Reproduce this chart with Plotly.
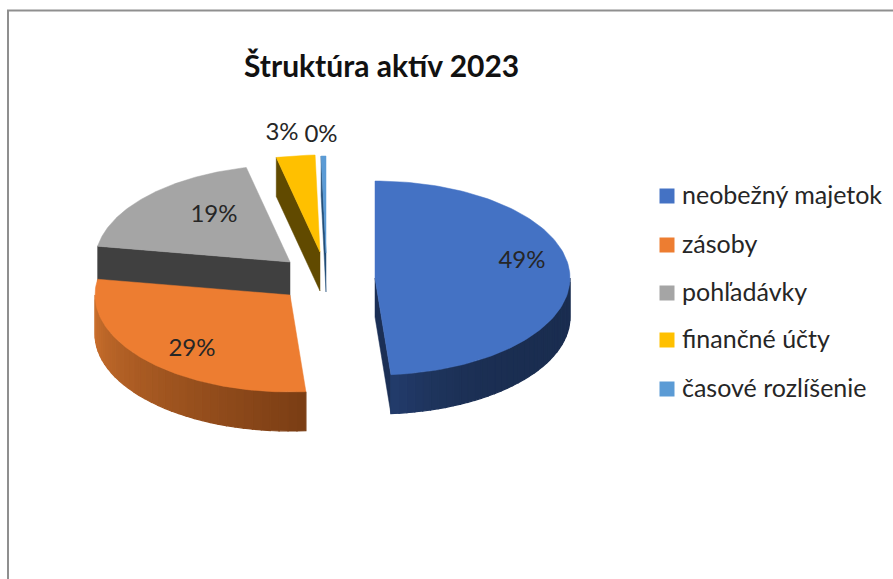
import math
import plotly.graph_objects as go

categories = ["neobežný majetok", "zásoby", "pohľadávky", "finančné účty", "časové rozlíšenie"]
values = [48.7, 28.9, 18.8, 3.2, 0.4]
tick_labels = ["49%", "29%", "19%", "3%", "0%"]

top_colors = ["#4472C4", "#ED7D31", "#A5A5A5", "#FFC000", "#5B9BD5"]
face_colors = ["#1B2F55", "#7C3E14", "#404040", "#614A00", "#234E78"]
rim_from = ["#1A2D50", "#7A3D14", "#404040", "#614A00", "#234E78"]
rim_to = ["#233C6C", "#CB702D", "#404040", "#614A00", "#234E78"]
rim_power = [5, 1, 1, 1, 1]

# layout of the exploded pie, in page pixels
apex = [(375, 278), (290, 295), (290, 262), (320, 252), (326, 253)]
RX, RY, DEPTH = 195, 97, 39
label_pos = [(522, 262), (192, 350), (214, 216), (282, 134), (321, 136)]
legend_y = [196, 245, 293, 340, 389]
legend_text_y = [198, 247, 295, 342, 391]

total = sum(values)
bounds = [0.0]
for v in values:
    bounds.append(bounds[-1] + v / total * 2 * math.pi)


def pt(i, a, dz=0):
    ax, ay = apex[i]
    return ax + RX * math.sin(a), ay - RY * math.cos(a) + dz


def mix(c1, c2, t):
    p = [int(c1[k:k + 2], 16) for k in (1, 3, 5)]
    q = [int(c2[k:k + 2], 16) for k in (1, 3, 5)]
    return "#%02x%02x%02x" % tuple(round(a + (b - a) * t) for a, b in zip(p, q))


fig = go.Figure()


def poly(points, color, lw=0.5):
    xs = [p[0] for p in points] + [points[0][0]]
    ys = [p[1] for p in points] + [points[0][1]]
    fig.add_trace(go.Scatter(x=xs, y=ys, mode="lines", fill="toself", fillcolor=color,
                             line=dict(color=color, width=lw), hoverinfo="skip", showlegend=False))


def draw_slice(i, face_angle=None, rim=None):
    a0, a1 = bounds[i], bounds[i + 1]
    if face_angle is not None:
        e = pt(i, face_angle)
        ax, ay = apex[i]
        poly([(ax, ay), e, (e[0], e[1] + DEPTH), (ax, ay + DEPTH)], face_colors[i])
    if rim:
        r0, r1 = max(a0, rim[0]), min(a1, rim[1])
        n = 36
        for k in range(n):
            s0 = r0 + (r1 - r0) * k / n
            s1 = r0 + (r1 - r0) * (k + 1) / n
            t = ((k + 0.5) / n) ** rim_power[i]
            poly([pt(i, s0), pt(i, s1), pt(i, s1, DEPTH), pt(i, s0, DEPTH)],
                 mix(rim_from[i], rim_to[i], t), lw=1.2)
    n = 120
    pts = [apex[i]] + [pt(i, a0 + (a1 - a0) * k / n) for k in range(n + 1)]
    poly(pts, top_colors[i])


draw_slice(4, face_angle=bounds[4])
draw_slice(3, face_angle=bounds[3])
draw_slice(2, face_angle=bounds[2])
draw_slice(1, rim=(bounds[1], 3 * math.pi / 2))
draw_slice(0, face_angle=bounds[1], rim=(math.pi / 2, bounds[1]))

FONT = "Lato"
INK = "#262626"

# data labels
fig.add_trace(go.Scatter(x=[p[0] for p in label_pos], y=[p[1] for p in label_pos], mode="text",
                         text=tick_labels, textposition="middle center",
                         textfont=dict(family=FONT, size=24, color=INK),
                         hoverinfo="skip", showlegend=False))

# legend swatches and entries
fig.add_trace(go.Scatter(x=[667] * 5, y=legend_y, mode="markers",
                         marker=dict(symbol="square", size=15, color=top_colors),
                         hoverinfo="skip", showlegend=False))
fig.add_trace(go.Scatter(x=[682] * 5, y=legend_text_y, mode="text", text=categories,
                         textposition="middle right",
                         textfont=dict(family=FONT, size=25, color=INK),
                         hoverinfo="skip", showlegend=False))

fig.update_layout(
    width=893, height=579, autosize=False,
    margin=dict(l=0, r=0, t=0, b=0),
    paper_bgcolor="white", plot_bgcolor="white",
    showlegend=False,
    xaxis=dict(range=[0, 893], visible=False, fixedrange=True),
    yaxis=dict(range=[579, 0], visible=False, fixedrange=True),
    shapes=[
        dict(type="line", xref="x", yref="y", x0=7, x1=893, y0=10.5, y1=10.5, line=dict(color="#8f8f8f", width=2)),
        dict(type="line", xref="x", yref="y", x0=8, x1=8, y0=10, y1=579, line=dict(color="#8f8f8f", width=2)),
    ],
    annotations=[dict(text="<b>Štruktúra aktív 2023</b>", xref="x", yref="y", x=381.5, y=65,
                      showarrow=False, font=dict(family=FONT, size=30, color="#111111"))],
)
fig.write_html("out.html", config=dict(displayModeBar=False),
               post_script="document.body.style.margin='0';document.body.style.overflow='hidden';")
